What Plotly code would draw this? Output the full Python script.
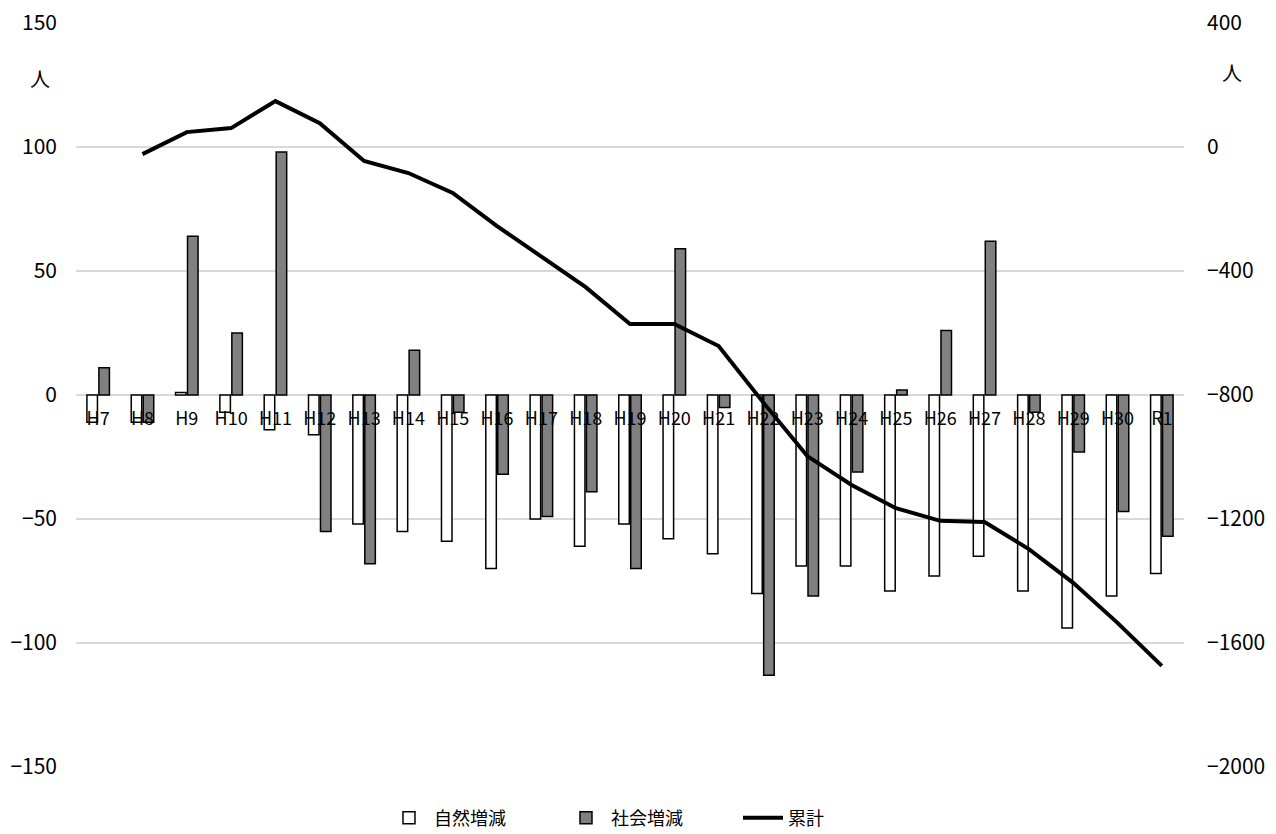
import plotly.graph_objects as go

categories = ["H7","H8","H9","H10","H11","H12","H13","H14","H15","H16","H17","H18","H19",
              "H20","H21","H22","H23","H24","H25","H26","H27","H28","H29","H30","R1"]
natural = [-11,-11,1,-7,-14,-16,-52,-55,-59,-70,-50,-61,-52,-58,-64,-80,-69,-69,-79,-73,-65,-79,-94,-81,-72]
social = [11,-11,64,25,98,-55,-68,18,-7,-32,-49,-39,-70,59,-5,-113,-81,-31,2,26,62,-7,-23,-47,-57]
cumulative = [None,-23,48,61,148,77,-45,-84,-148,-255,-352,-452,-571,-571,-642,-823,-997,-1090,-1165,-1206,-1210,-1297,-1406,-1535,-1674]

FONT = "Noto Sans CJK JP"

fig = go.Figure()
fig.add_trace(go.Bar(x=categories, y=natural, name="自然増減",
                     marker=dict(color="white", line=dict(color="black", width=1.5))))
fig.add_trace(go.Bar(x=categories, y=social, name="社会増減",
                     marker=dict(color="#808080", line=dict(color="black", width=1.5))))
fig.add_trace(go.Scatter(x=categories, y=cumulative, name="累計", yaxis="y2", mode="lines",
                         line=dict(color="black", width=4), connectgaps=False))

fig.update_layout(
    width=1276, height=834,
    margin=dict(l=76, r=92, t=23, b=67, autoexpand=False),
    paper_bgcolor="white", plot_bgcolor="white",
    font=dict(family=FONT, size=20, color="black"),
    barmode="group", bargap=0.46, bargroupgap=0.12,
    xaxis=dict(anchor="free", position=0.5, showline=False, ticks="",
               tickfont=dict(size=18), showgrid=False, zeroline=False,
               ticklabelstandoff=11, automargin=False, ticklabeloverflow="allow"),
    yaxis=dict(range=[-150,150], dtick=50, showgrid=True, gridcolor="#d9d9d9", gridwidth=1.5,
               zeroline=True, zerolinecolor="#d9d9d9", zerolinewidth=1.5,
               tickfont=dict(size=21), ticklabelstandoff=18, showline=False,
               ticks="", automargin=False, ticklabeloverflow="allow"),
    yaxis2=dict(range=[-2000,400], dtick=400, overlaying="y", side="right", showgrid=False,
                zeroline=False, tickfont=dict(size=21), ticklabelstandoff=22,
                showline=False, ticks="", automargin=False, ticklabeloverflow="allow"),
    legend=dict(orientation="h", x=0.509, xanchor="center", xref="container",
                y=0.019, yanchor="middle", yref="container",
                font=dict(size=18), traceorder="normal", itemwidth=40,
                entrywidth=122, entrywidthmode="pixels"),
    annotations=[
        dict(text="人", xref="paper", yref="paper", x=-0.0325, y=0.926, showarrow=False,
             font=dict(size=20), xanchor="center", yanchor="middle"),
        dict(text="人", xref="paper", yref="paper", x=1.043, y=0.934, showarrow=False,
             font=dict(size=20), xanchor="center", yanchor="middle"),
    ],
)

fig.write_html("out.html", config={"displayModeBar": False},
               post_script="document.body.style.margin='0';")
